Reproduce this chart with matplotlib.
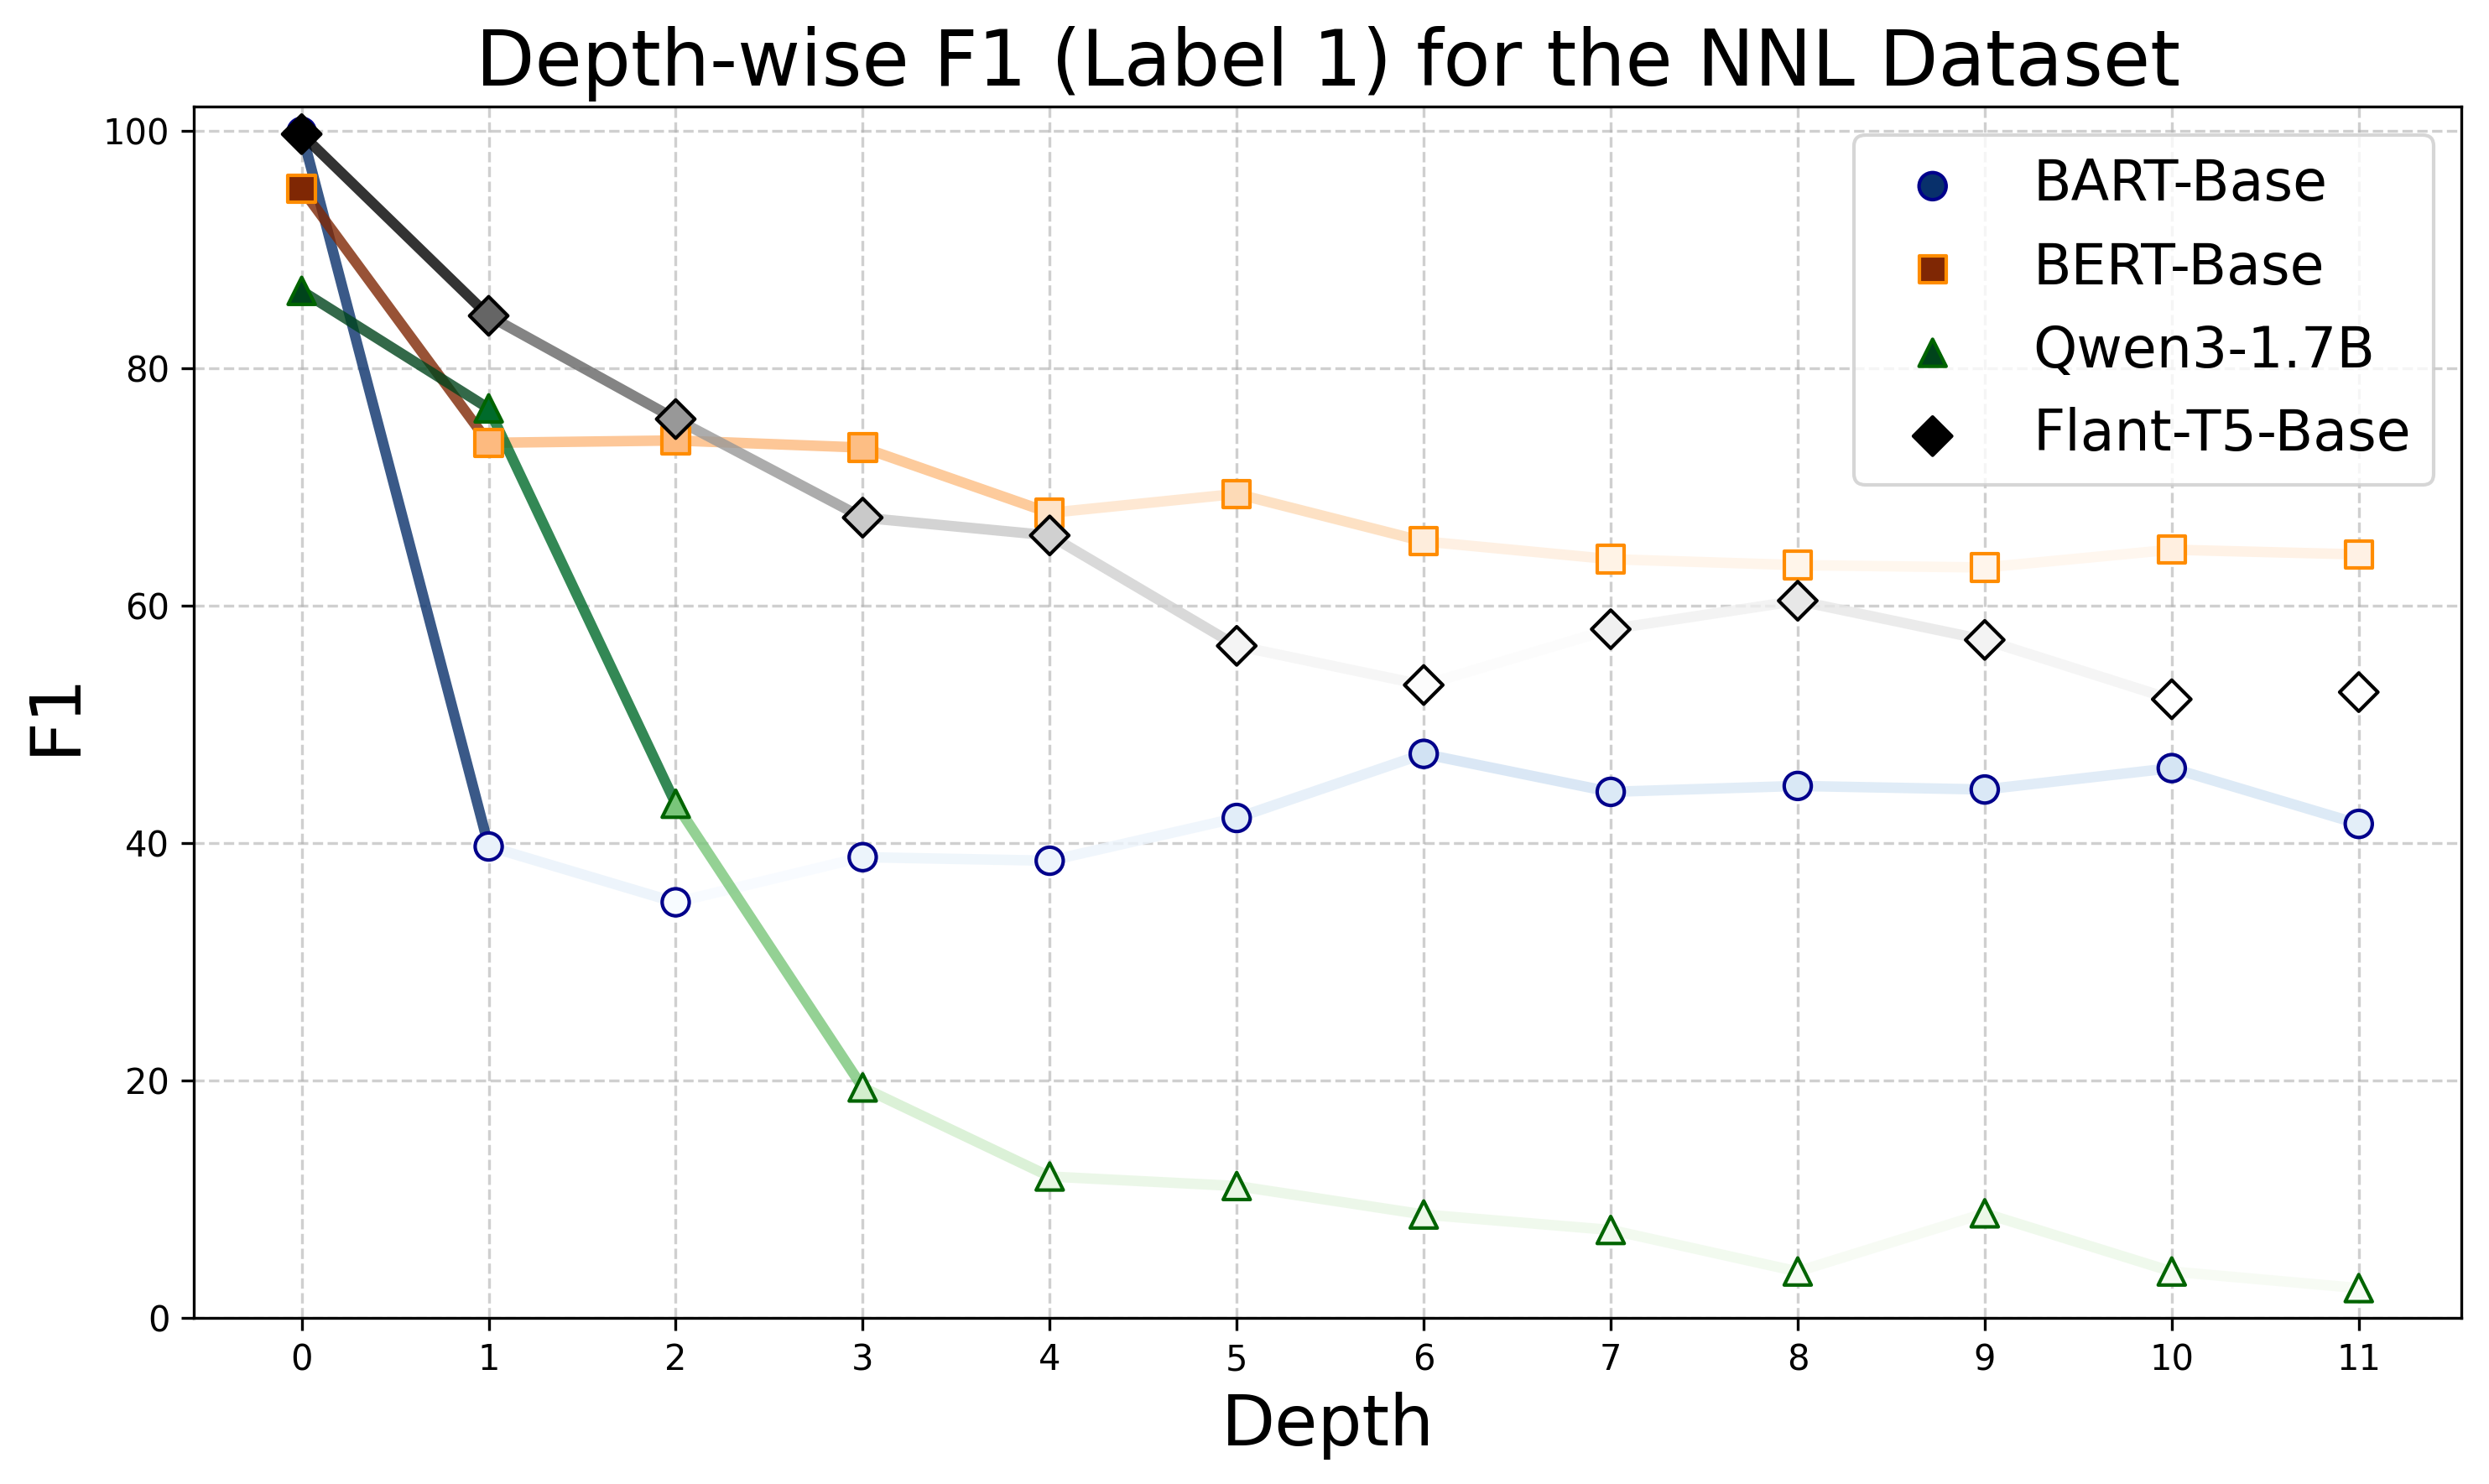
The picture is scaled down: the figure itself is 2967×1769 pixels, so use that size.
import matplotlib
matplotlib.use("Agg")
import matplotlib.pyplot as plt
import numpy as np
from matplotlib.colors import Normalize

depths = list(range(12))
models = ["BART-Base", "BERT-Base", "Qwen3-1.7B", "Flant-T5-Base"]
bart = [99.9, 39.7, 35.0, 38.8, 38.5, 42.1, 47.5, 44.3, 44.8, 44.5, 46.3, 41.6]
bert = [95.1, 73.7, 73.9, 73.3, 67.8, 69.4, 65.4, 63.9, 63.4, 63.2, 64.7, 64.3]
qwen = [86.5, 76.6, 43.3, 19.4, 11.9, 11.1, 8.7, 7.4, 3.9, 8.8, 3.9, 2.5]
flan = [99.7, 84.4, 75.7, 67.4, 65.9, 56.6, 53.3, 58.0, 60.4, 57.1, 52.1, 52.7]

series = [bart, bert, qwen, flan]
cmaps = ["Blues", "Oranges", "Greens", "Greys"]
markers = ["o", "s", "^", "D"]
edges = ["darkblue", "darkorange", "darkgreen", "black"]

fig = plt.figure(figsize=(2967 / 300, 1769 / 300), dpi=300)
ax = fig.add_axes([0.078, 0.112, 0.911, 0.816])

x = np.array(depths)
for name, vals, cm, mk, ec in zip(models, series, cmaps, markers, edges):
    y = np.array(vals)
    cmap = plt.get_cmap(cm)
    norm = Normalize(vmin=y.min(), vmax=y.max())
    for i in range(len(x) - 1):
        ax.plot(x[i:i + 2], y[i:i + 2], color=cmap(norm(y[i])), alpha=0.8,
                linewidth=3, zorder=2)
    ax.scatter(x, y, c=y, cmap=cmap, norm=norm, marker=mk, s=60,
               edgecolors=ec, linewidths=1.0, zorder=3, label=name)

ax.set_xlim(-0.575, 11.55)
ax.set_ylim(0, 102)
ax.set_xticks(depths)
ax.set_yticks([0, 20, 40, 60, 80, 100])
ax.grid(True, linestyle="--", alpha=0.6)
ax.set_title("Depth-wise F1 (Label 1) for the NNL Dataset", fontsize=22)
ax.set_xlabel("Depth", fontsize=20)
ax.set_ylabel("F1", fontsize=20)
ax.legend(loc="upper right", fontsize=16)

fig.savefig("out.png", dpi=300)
